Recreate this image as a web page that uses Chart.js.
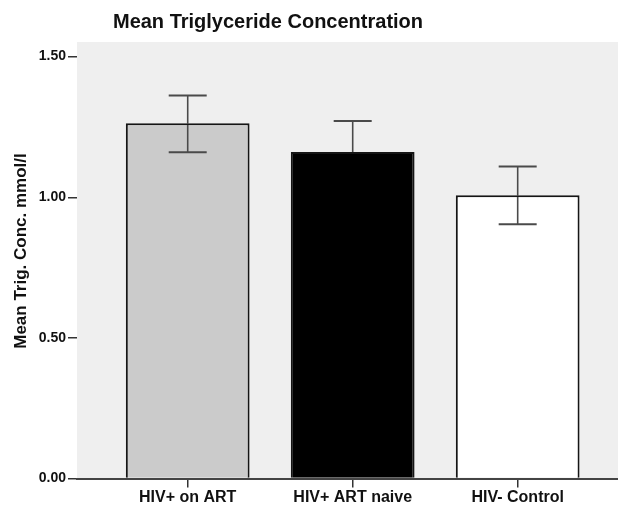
<!DOCTYPE html>
<html>
<head>
<meta charset="utf-8">
<script src="https://cdn.jsdelivr.net/npm/chart.js@4/dist/chart.umd.min.js"></script>
<style>
  html, body { margin: 0; padding: 0; background: #ffffff; }
  #wrap { width: 618px; height: 506px; position: relative; }
</style>
</head>
<body>
<div id="wrap"><canvas id="c" width="618" height="506"></canvas></div>
<script>
const chartTitle = "Mean Triglyceride Concentration";
const yAxisTitle = "Mean Trig. Conc. mmol/l";
const categories = ["HIV+ on ART", "HIV+ ART naive", "HIV- Control"];
const meanValues = [1.263, 1.161, 1.007];
const errorUpper = [1.362, 1.271, 1.109];
const errorLower = [1.160, 1.051, 0.904];
const barColors = ["#cbcbcb", "#000000", "#ffffff"];
const yTicks = [0, 0.5, 1.0, 1.5];

Chart.defaults.font.family = "'Liberation Sans', Arial, sans-serif";
Chart.defaults.color = "#111";

const plotBg = {
  id: 'plotBg',
  beforeDraw(chart) {
    const {ctx, chartArea: a} = chart;
    ctx.save();
    ctx.fillStyle = '#efefef';
    ctx.fillRect(a.left, a.top, a.right - a.left, a.bottom - a.top);
    ctx.restore();
  }
};

const errorBars = {
  id: 'errorBars',
  afterDatasetsDraw(chart) {
    const {ctx, scales: {x, y}} = chart;
    ctx.save();
    ctx.globalCompositeOperation = 'darken';
    ctx.strokeStyle = '#4a4a4a';
    ctx.lineCap = 'butt';
    categories.forEach((c, i) => {
      const px = x.getPixelForValue(i + 1);
      const yt = y.getPixelForValue(errorUpper[i]);
      const yb = y.getPixelForValue(errorLower[i]);
      ctx.lineWidth = 1.6;
      ctx.beginPath();
      ctx.moveTo(px, yt); ctx.lineTo(px, yb);
      ctx.stroke();
      ctx.lineWidth = 2;
      ctx.beginPath();
      ctx.moveTo(px - 19, yt); ctx.lineTo(px + 19, yt);
      ctx.moveTo(px - 19, yb); ctx.lineTo(px + 19, yb);
      ctx.stroke();
    });
    ctx.restore();
  }
};

const texts = {
  id: 'texts',
  afterDraw(chart) {
    const {ctx, chartArea: a} = chart;
    ctx.save();
    ctx.font = "bold 20px 'Liberation Sans', Arial, sans-serif";
    ctx.fillStyle = '#111';
    ctx.textAlign = 'center';
    ctx.textBaseline = 'middle';
    ctx.fillText(chartTitle, 268, 22);
    ctx.translate(21, 251);
    ctx.rotate(-Math.PI / 2);
    ctx.font = "bold 17px 'Liberation Sans', Arial, sans-serif";
    ctx.fillText(yAxisTitle, 0, 0);
    ctx.restore();
  }
};

new Chart(document.getElementById('c'), {
  type: 'bar',
  data: {
    datasets: [{
      data: categories.map((c, i) => ({x: i + 1, y: meanValues[i]})),
      backgroundColor: barColors,
      borderColor: '#151515',
      borderWidth: 2,
      categoryPercentage: 1.0,
      barPercentage: 0.75
    }]
  },
  options: {
    responsive: false,
    animation: false,
    layout: { padding: { top: 42, left: 0, right: 0, bottom: 0 } },
    plugins: {
      legend: { display: false },
      title: { display: false },
      tooltip: { enabled: false }
    },
    scales: {
      x: {
        type: 'linear',
        offset: false,
        min: 0.329,
        max: 3.608,
        afterBuildTicks(scale) { scale.ticks = categories.map((c, i) => ({value: i + 1})); },
        afterFit(scale) { scale.height = 27.5; },
        grid: { offset: false, drawOnChartArea: false, drawTicks: true, tickLength: 9, color: '#333', lineWidth: 1.5 },
        border: { display: true, color: '#444', width: 2 },
        ticks: {
          padding: 0,
          maxRotation: 0,
          autoSkip: false,
          font: { size: 16, weight: 'bold' },
          color: '#111',
          callback: (v) => categories[Math.round(v) - 1] || ''
        }
      },
      y: {
        min: 0,
        max: 1.552,
        afterBuildTicks(scale) { scale.ticks = yTicks.map(v => ({value: v})); },
        afterFit(scale) { scale.width = 77; },
        grid: { drawOnChartArea: false, drawTicks: true, tickLength: 9, color: '#333', lineWidth: 1.5 },
        border: { display: false },
        ticks: {
          padding: 2,
          font: { size: 14, weight: 'bold' },
          color: '#111',
          callback: (v) => Number(v).toFixed(2)
        },
        title: { display: false }
      }
    }
  },
  plugins: [plotBg, errorBars, texts]
});
</script>
</body>
</html>
